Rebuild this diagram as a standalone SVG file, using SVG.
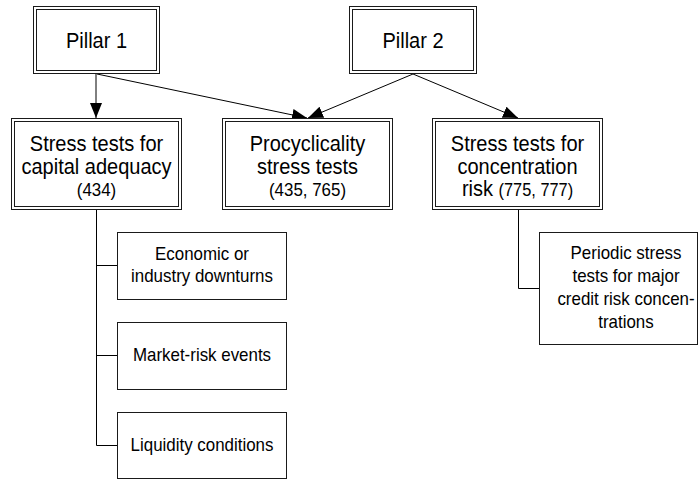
<svg xmlns="http://www.w3.org/2000/svg" width="699" height="480" viewBox="0 0 699 480">
  <style>
    .bg { fill: #ffffff; }
    .box { fill: #ffffff; stroke: #1a1a1a; stroke-width: 1; }
    .inner { fill: none; stroke: #1a1a1a; stroke-width: 1; }
    .t { font-family: "Liberation Sans", Arial, sans-serif; fill: #000; text-anchor: middle; }
    .big { font-size: 22px; }
    .mid { font-size: 18px; }
    .edge { fill: none; stroke: #000; stroke-width: 1; }
  </style>
  <defs>
    <marker id="arrow" markerUnits="userSpaceOnUse" markerWidth="16" markerHeight="12" viewBox="0 0 16 12" refX="15" refY="6" orient="auto">
      <path d="M0,0 L15,6 L0,12 Z" fill="#000"/>
    </marker>
  </defs>
  <rect class="bg" x="0" y="0" width="699" height="480"/>

  <g id="connectors">
    <line class="edge" x1="96" y1="74" x2="96" y2="118" marker-end="url(#arrow)"/>
    <line class="edge" x1="97" y1="74" x2="307" y2="118" marker-end="url(#arrow)"/>
    <line class="edge" x1="413" y1="74" x2="308" y2="118" marker-end="url(#arrow)"/>
    <line class="edge" x1="413" y1="74" x2="518" y2="118" marker-end="url(#arrow)"/>
    <path class="edge" d="M96.5,209 V445.5 M96.5,265.5 H117 M96.5,355.5 H117 M96.5,445.5 H117"/>
    <path class="edge" d="M518.5,209 V288.5 H539"/>
  </g>

  <g id="pillar1">
    <rect class="box" x="33.5" y="6.5" width="126" height="67"/>
    <rect class="inner" x="36.5" y="9.5" width="120" height="61"/>
    <text class="t big" transform="translate(96.5,47.5) scale(0.91,1)">Pillar 1</text>
  </g>

  <g id="pillar2">
    <rect class="box" x="349.5" y="6.5" width="127" height="67"/>
    <rect class="inner" x="352.5" y="9.5" width="121" height="61"/>
    <text class="t big" transform="translate(413,47.5) scale(0.91,1)">Pillar 2</text>
  </g>

  <g id="capital">
    <rect class="box" x="11.5" y="118.5" width="170" height="91"/>
    <rect class="inner" x="14.5" y="121.5" width="164" height="85"/>
    <text class="t big" transform="translate(96.5,151) scale(0.91,1)">Stress tests for</text>
    <text class="t big" transform="translate(96.5,173.5) scale(0.91,1)">capital adequacy</text>
    <text class="t mid" transform="translate(96.5,196) scale(0.94,1)">(434)</text>
  </g>

  <g id="procyclicality">
    <rect class="box" x="222.5" y="118.5" width="170" height="91"/>
    <rect class="inner" x="225.5" y="121.5" width="164" height="85"/>
    <text class="t big" transform="translate(307.5,151) scale(0.91,1)">Procyclicality</text>
    <text class="t big" transform="translate(307.5,173.5) scale(0.91,1)">stress tests</text>
    <text class="t mid" transform="translate(307.5,196) scale(0.94,1)">(435, 765)</text>
  </g>

  <g id="concentration">
    <rect class="box" x="432.5" y="118.5" width="170" height="91"/>
    <rect class="inner" x="435.5" y="121.5" width="164" height="85"/>
    <text class="t big" transform="translate(517.5,151) scale(0.91,1)">Stress tests for</text>
    <text class="t big" transform="translate(517.5,173.5) scale(0.91,1)">concentration</text>
    <text class="t big" transform="translate(517.5,196) scale(0.91,1)">risk <tspan class="mid">(775, 777)</tspan></text>
  </g>

  <g id="economic">
    <rect class="box" x="117.5" y="232.5" width="169" height="67"/>
    <text class="t mid" transform="translate(202,260) scale(0.94,1)">Economic or</text>
    <text class="t mid" transform="translate(202,282) scale(0.94,1)">industry downturns</text>
  </g>

  <g id="market">
    <rect class="box" x="117.5" y="322.5" width="169" height="67"/>
    <text class="t mid" transform="translate(202,361) scale(0.94,1)">Market-risk events</text>
  </g>

  <g id="liquidity">
    <rect class="box" x="117.5" y="412.5" width="169" height="66"/>
    <text class="t mid" transform="translate(202,451) scale(0.94,1)">Liquidity conditions</text>
  </g>

  <g id="periodic">
    <rect class="box" x="539.5" y="232.5" width="158" height="112"/>
    <text class="t mid" transform="translate(626,259) scale(0.94,1)">Periodic stress</text>
    <text class="t mid" transform="translate(626,282) scale(0.94,1)">tests for major</text>
    <text class="t mid" transform="translate(626,305) scale(0.94,1)">credit risk concen-</text>
    <text class="t mid" transform="translate(626,328) scale(0.94,1)">trations</text>
  </g>
</svg>
